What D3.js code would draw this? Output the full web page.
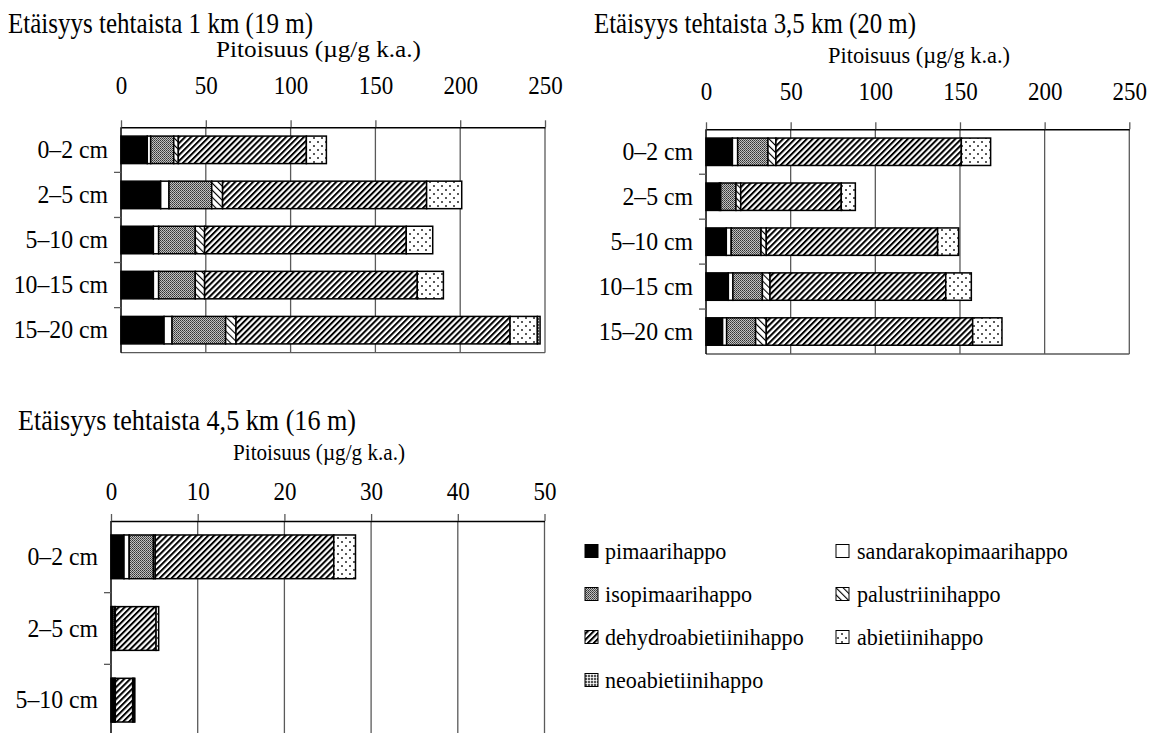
<!DOCTYPE html>
<html>
<head>
<meta charset="utf-8">
<script src="https://cdn.jsdelivr.net/npm/d3@7/dist/d3.min.js"></script>
<style>
  html, body { margin: 0; padding: 0; background: #fff; }
  svg { display: block; font-family: "Liberation Serif", "Times New Roman", serif; }
</style>
</head>
<body>
<svg id="chart" width="1159" height="733"></svg>
<script>
// Resin acid concentrations (µg/g dry weight) in sediment layers at three distances from the mill
const acids = ["pimaarihappo", "sandarakopimaarihappo", "isopimaarihappo", "palustriinihappo",
               "dehydroabietiinihappo", "abietiinihappo", "neoabietiinihappo"];

// 1 km (19 m)
const depths1 = ["0–2 cm", "2–5 cm", "5–10 cm", "10–15 cm", "15–20 cm"];
const pim1 = [15.5, 23.4, 19.1, 19.1, 25.4];
const san1 = [2.0, 4.9, 3.1, 3.1, 4.7];
const iso1 = [13.6, 25.2, 21.6, 21.6, 31.6];
const pal1 = [2.7, 6.4, 5.5, 5.5, 6.1];
const deh1 = [75.5, 120.3, 118.9, 125.4, 161.6];
const abi1 = [11.8, 20.7, 15.6, 15.4, 16.1];
const neo1 = [0, 0, 0, 0, 1.6];

// 3,5 km (20 m)
const depths2 = ["0–2 cm", "2–5 cm", "5–10 cm", "10–15 cm", "15–20 cm"];
const pim2 = [15.6, 7.9, 12.0, 13.2, 9.8];
const san2 = [3.1, 0.8, 2.9, 2.7, 2.4];
const iso2 = [17.9, 9.0, 17.6, 17.4, 17.1];
const pal2 = [4.7, 2.8, 3.1, 4.5, 6.3];
const deh2 = [109.5, 59.4, 101.2, 103.8, 121.9];
const abi2 = [17.3, 8.3, 12.4, 15.1, 17.3];
const neo2 = [0, 0, 0, 0, 0];

// 4,5 km (16 m)
const depths3 = ["0–2 cm", "2–5 cm", "5–10 cm"];
const pim3 = [1.5, 0.1, 0.15];
const san3 = [0.6, 0.1, 0.1];
const iso3 = [2.8, 0.2, 0.15];
const pal3 = [0.2, 0.1, 0.1];
const deh3 = [20.6, 4.7, 2.0];
const abi3 = [2.5, 0.3, 0.15];
const neo3 = [0, 0, 0.1];

const ticksWide = [0, 50, 100, 150, 200, 250];
const ticksNarrow = [0, 10, 20, 30, 40, 50];

const titles = ["Etäisyys tehtaista 1 km (19 m)", "Etäisyys tehtaista 3,5 km (20 m)", "Etäisyys tehtaista 4,5 km (16 m)"];
const unitLabel = "Pitoisuus (µg/g k.a.)";

const FONT = "Liberation Serif, Times New Roman, serif";
const svg = d3.select("#chart");
const defs = svg.append("defs");

// squeeze text horizontally (tall, tightly set type)
function condense(sel, factor) {
  sel.each(function () {
    const L = this.getComputedTextLength();
    d3.select(this).attr("textLength", L * factor).attr("lengthAdjust", "spacingAndGlyphs");
  });
}

// fill patterns
function stripes(id, angle, gap, width) {
  const p = defs.append("pattern").attr("id", id).attr("patternUnits", "userSpaceOnUse")
    .attr("width", gap).attr("height", gap).attr("patternTransform", `rotate(${angle})`);
  p.append("rect").attr("width", gap).attr("height", gap).attr("fill", "#fff");
  p.append("rect").attr("width", width).attr("height", gap).attr("fill", "#000");
}
stripes("pDeh", 45, 4.2, 2.0);
stripes("pPal", -45, 5, 1.1);

const pIso = defs.append("pattern").attr("id", "pIso").attr("patternUnits", "userSpaceOnUse")
  .attr("width", 2).attr("height", 2);
pIso.append("rect").attr("width", 2).attr("height", 2).attr("fill", "#c0c0c0");
pIso.append("rect").attr("width", 1).attr("height", 1).attr("fill", "#333");
pIso.append("rect").attr("x", 1).attr("y", 1).attr("width", 1).attr("height", 1).attr("fill", "#555");

const pAbi = defs.append("pattern").attr("id", "pAbi").attr("patternUnits", "userSpaceOnUse")
  .attr("width", 8).attr("height", 8);
pAbi.append("rect").attr("width", 8).attr("height", 8).attr("fill", "#fff");
pAbi.append("circle").attr("cx", 2).attr("cy", 2).attr("r", 1).attr("fill", "#222");
pAbi.append("circle").attr("cx", 6).attr("cy", 6).attr("r", 1).attr("fill", "#222");

const pNeo = defs.append("pattern").attr("id", "pNeo").attr("patternUnits", "userSpaceOnUse")
  .attr("width", 3).attr("height", 3);
pNeo.append("rect").attr("width", 3).attr("height", 3).attr("fill", "#d8d8d8");
pNeo.append("rect").attr("width", 2).attr("height", 2).attr("fill", "#555");
pNeo.append("rect").attr("x", 2).attr("y", 2).attr("width", 1).attr("height", 1).attr("fill", "#fff");

const fills = ["#000", "#fff", "url(#pIso)", "url(#pPal)", "url(#pDeh)", "url(#pAbi)", "url(#pNeo)"];
const color = d3.scaleOrdinal().domain(acids).range(fills);

function buildRows(depths, series) {
  return depths.map((d, i) => {
    const row = { depth: d };
    acids.forEach((a, k) => row[a] = series[k][i]);
    return row;
  });
}

function drawPanel(o) {
  const g = svg.append("g");
  const x = d3.scaleLinear().domain([0, o.max]).range([o.left, o.right]);
  const y = d3.scaleBand().domain(o.rows.map(r => r.depth)).range([o.top, o.bottom])
    .paddingInner(0.39).paddingOuter(0.195);

  g.append("text").attr("x", o.titleX).attr("y", o.titleY).attr("font-size", 29)
    .attr("textLength", o.titleW).attr("lengthAdjust", "spacingAndGlyphs").text(o.title);
  g.append("text").attr("x", o.unitX).attr("y", o.unitY).attr("font-size", 24)
    .attr("textLength", o.unitW).attr("lengthAdjust", "spacingAndGlyphs").text(unitLabel);

  // vertical gridlines
  g.append("g").selectAll("line").data(o.ticks.slice(1)).join("line")
    .attr("x1", d => x(d)).attr("x2", d => x(d))
    .attr("y1", o.top).attr("y2", o.bottom)
    .attr("stroke", "#5a5a5a").attr("stroke-width", 1.3);
  // bottom frame
  g.append("line").attr("x1", o.left).attr("x2", o.right).attr("y1", o.bottom).attr("y2", o.bottom)
    .attr("stroke", "#5a5a5a").attr("stroke-width", 1.3);

  // stacked bars
  const stack = d3.stack().keys(acids)(o.rows);
  g.append("g").selectAll("g").data(stack).join("g")
    .attr("fill", d => color(d.key))
    .selectAll("rect").data(d => d.filter(s => s[1] - s[0] > 0)).join("rect")
    .attr("x", d => x(d[0])).attr("width", d => x(d[1]) - x(d[0]))
    .attr("y", d => y(d.data.depth)).attr("height", y.bandwidth())
    .attr("stroke", "#000").attr("stroke-width", 1.5);

  // top axis
  const ax = g.append("g").attr("transform", `translate(0,${o.top})`)
    .call(d3.axisTop(x).tickValues(o.ticks).tickSize(7).tickPadding(o.tickPad).tickSizeOuter(0));
  ax.select(".domain").attr("stroke", "#000").attr("stroke-width", 1.5);
  ax.selectAll(".tick line").attr("stroke", "#5a5a5a").attr("stroke-width", 1.3);
  ax.selectAll("text").attr("font-size", 25).attr("fill", "#000").attr("font-family", FONT)
    .call(condense, 0.92);

  // left axis with category labels
  const ay = g.append("g").attr("transform", `translate(${o.left},0)`)
    .call(d3.axisLeft(y).tickSize(0).tickPadding(13));
  ay.select(".domain").remove();
  ay.selectAll("text").attr("font-size", 25).attr("fill", "#000").attr("font-family", FONT)
    .call(condense, 0.95);
  g.append("line").attr("x1", o.left).attr("x2", o.left).attr("y1", o.top).attr("y2", o.bottom)
    .attr("stroke", "#000").attr("stroke-width", 1.5);
  // ticks between categories
  const bounds = d3.range(1, o.rows.length).map(i => o.top + i * y.step());
  g.append("g").selectAll("line").data(bounds).join("line")
    .attr("x1", o.left - 7).attr("x2", o.left).attr("y1", d => d).attr("y2", d => d)
    .attr("stroke", "#5a5a5a").attr("stroke-width", 1.3);
}

drawPanel({
  title: titles[0], titleX: 8, titleY: 33, titleW: 305,
  unitX: 216, unitY: 57, unitW: 205, tickPad: 26,
  rows: buildRows(depths1, [pim1, san1, iso1, pal1, deh1, abi1, neo1]),
  max: 250, ticks: ticksWide, left: 121, right: 545, top: 127.3, bottom: 352.7
});
drawPanel({
  title: titles[1], titleX: 594, titleY: 33, titleW: 322,
  unitX: 828, unitY: 63, unitW: 182, tickPad: 22,
  rows: buildRows(depths2, [pim2, san2, iso2, pal2, deh2, abi2, neo2]),
  max: 250, ticks: ticksWide, left: 706, right: 1129.3, top: 129.3, bottom: 354
});
drawPanel({
  title: titles[2], titleX: 18, titleY: 430, titleW: 338,
  unitX: 233, unitY: 460, unitW: 172, tickPad: 14,
  rows: buildRows(depths3, [pim3, san3, iso3, pal3, deh3, abi3, neo3]),
  max: 50, ticks: ticksNarrow, left: 111, right: 544.5, top: 521, bottom: 736
});

// legend
const legendCols = [[585, 605], [836, 857]];
const legendOrder = [[0, 1], [2, 3], [4, 5], [6]];
const leg = svg.append("g");
legendOrder.forEach((row, r) => {
  row.forEach((k, c) => {
    const cy = 551 + r * 43;
    leg.append("rect").attr("x", legendCols[c][0]).attr("y", cy - 6.5).attr("width", 13).attr("height", 13)
      .attr("fill", color(acids[k])).attr("stroke", "#000").attr("stroke-width", 1);
    leg.append("text").attr("x", legendCols[c][1]).attr("y", cy + 8).attr("font-size", 24)
      .text(acids[k]).call(condense, 0.92);
  });
});
</script>
</body>
</html>
